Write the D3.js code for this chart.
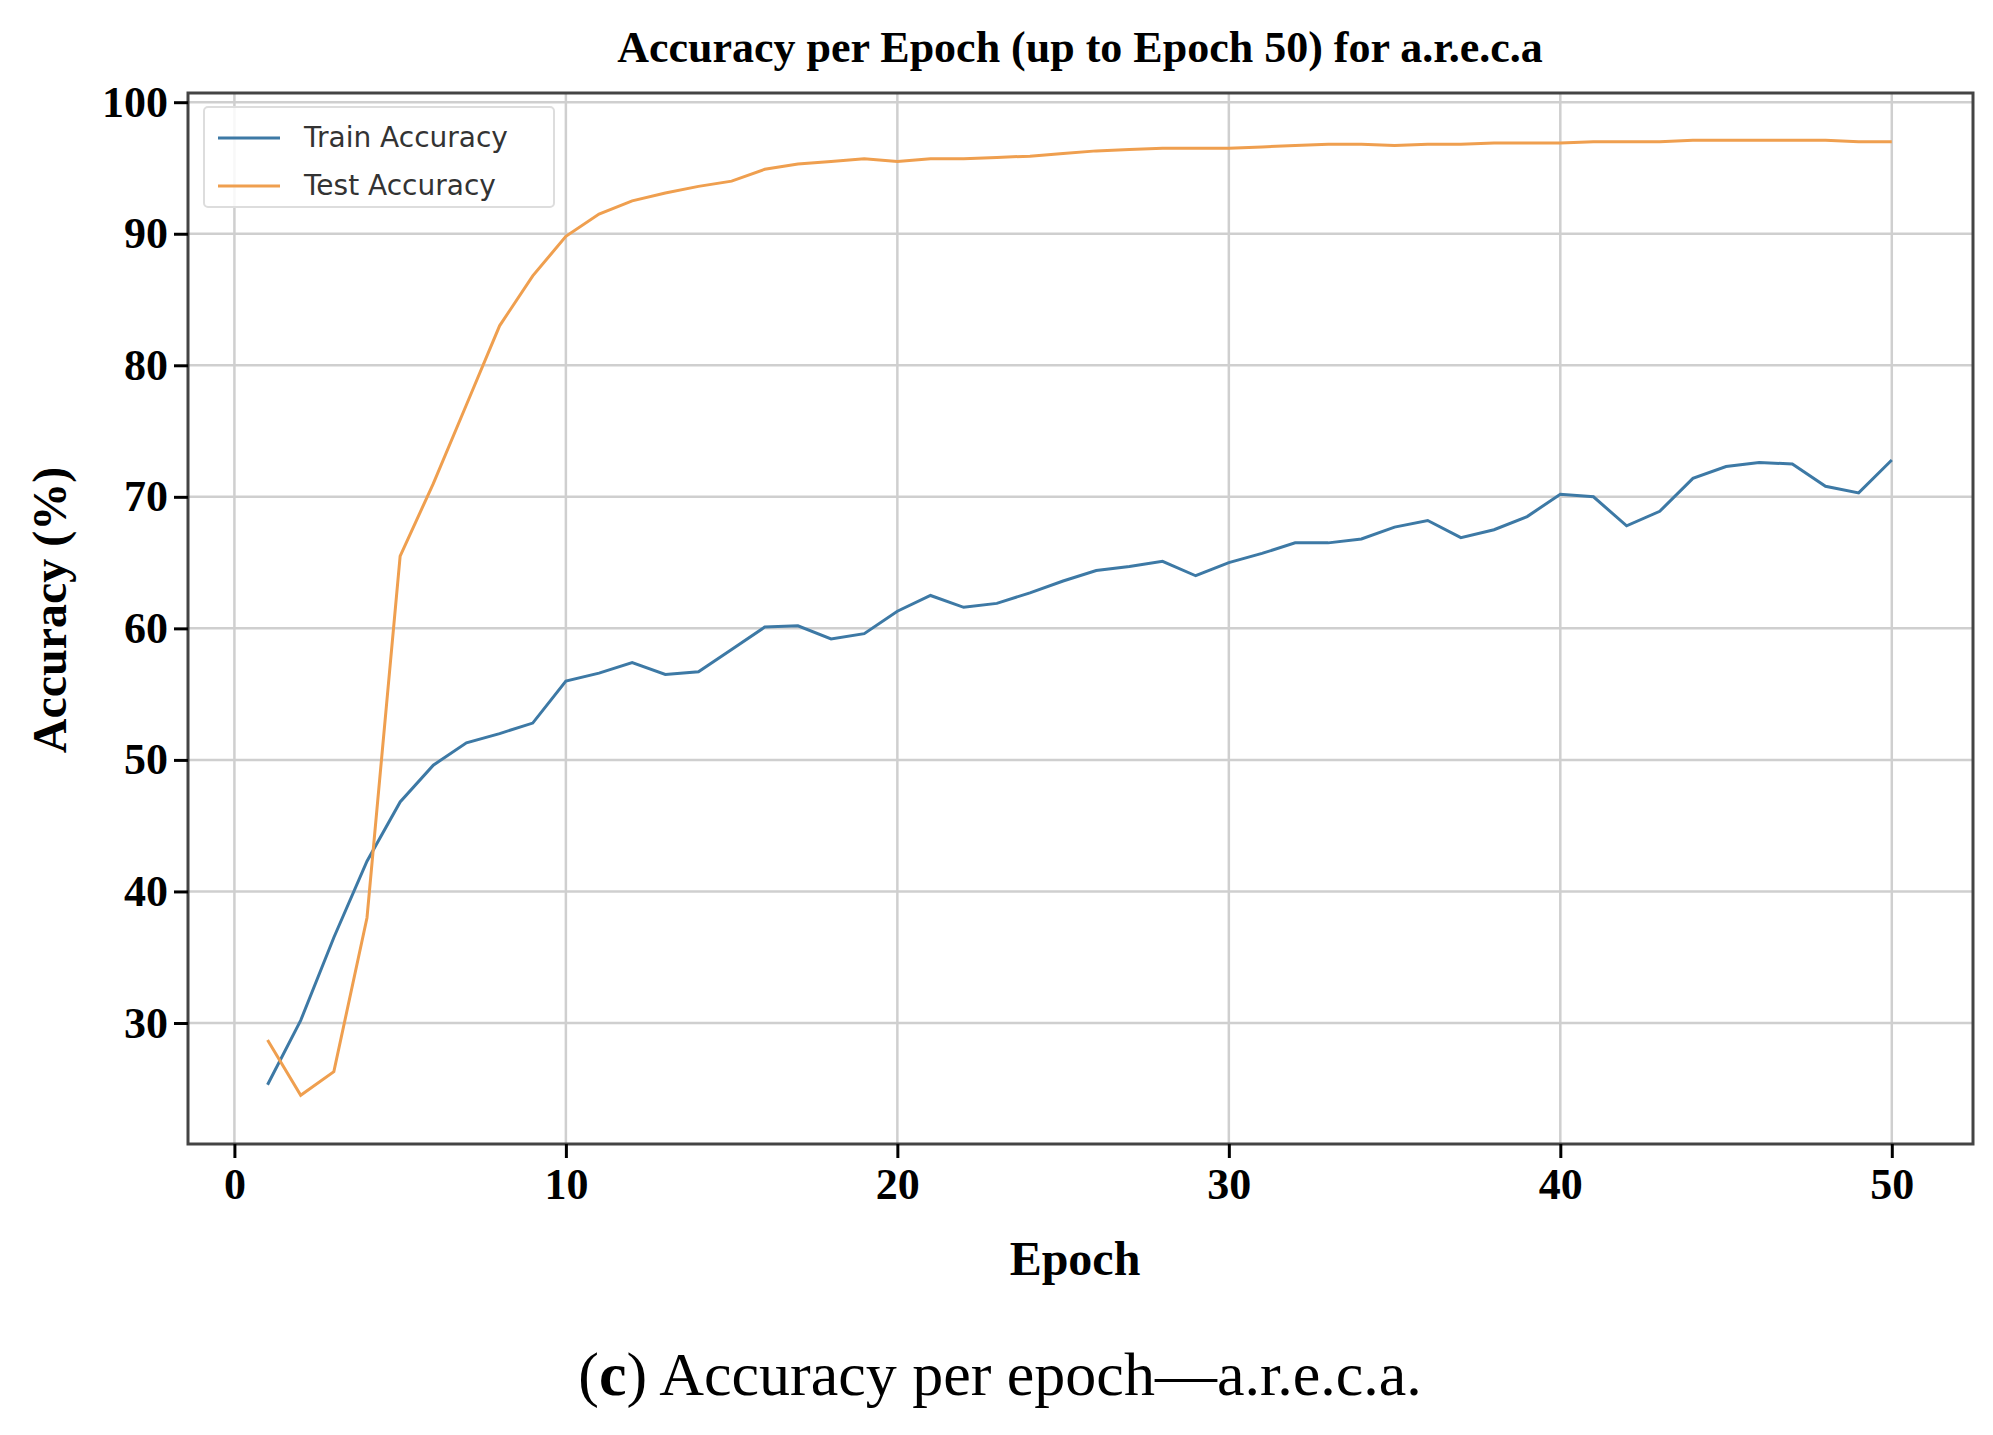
<!DOCTYPE html>
<html>
<head>
<meta charset="utf-8">
<script src="https://cdn.jsdelivr.net/npm/d3@7"></script>
<style>
  body { margin: 0; background: #fff; }
</style>
</head>
<body>
<svg id="chart" width="1993" height="1435"></svg>
<script>
// values
const epochs = d3.range(1, 51);
const trainAcc = [25.3, 30.2, 36.5, 42.3, 46.8, 49.6, 51.3, 52.0, 52.8, 56.0,
  56.6, 57.4, 56.5, 56.7, 58.4, 60.1, 60.2, 59.2, 59.6, 61.3,
  62.5, 61.6, 61.9, 62.7, 63.6, 64.4, 64.7, 65.1, 64.0, 65.0,
  65.7, 66.5, 66.5, 66.8, 67.7, 68.2, 66.9, 67.5, 68.5, 70.2,
  70.0, 67.8, 68.9, 71.4, 72.3, 72.6, 72.5, 70.8, 70.3, 72.8];
const testAcc = [28.7, 24.5, 26.3, 38.0, 65.5, 71.0, 77.0, 83.0, 86.8, 89.8,
  91.5, 92.5, 93.1, 93.6, 94.0, 94.9, 95.3, 95.5, 95.7, 95.5,
  95.7, 95.7, 95.8, 95.9, 96.1, 96.3, 96.4, 96.5, 96.5, 96.5,
  96.6, 96.7, 96.8, 96.8, 96.7, 96.8, 96.8, 96.9, 96.9, 96.9,
  97.0, 97.0, 97.0, 97.1, 97.1, 97.1, 97.1, 97.1, 97.0, 97.0];
const xTicks = [0, 10, 20, 30, 40, 50];
const yTicks = [30, 40, 50, 60, 70, 80, 90, 100];

const svg = d3.select("#chart");
const pL = 188, pR = 1973, pT = 93, pB = 1144;

const x = d3.scaleLinear().domain([-1.4, 52.45]).range([pL, pR]);
const y = d3.scaleLinear().domain([20.8, 100.7]).range([pB, pT]);

// grid
svg.append("g").selectAll("line").data(xTicks).join("line")
  .attr("x1", d => x(d)).attr("x2", d => x(d)).attr("y1", pT).attr("y2", pB)
  .attr("stroke", "#cfcfcf").attr("stroke-width", 2.5);
svg.append("g").selectAll("line").data(yTicks).join("line")
  .attr("x1", pL).attr("x2", pR).attr("y1", d => y(d)).attr("y2", d => y(d))
  .attr("stroke", "#cfcfcf").attr("stroke-width", 2.5);

// lines
const line = d3.line().x((d, i) => x(epochs[i])).y(d => y(d));
svg.append("path").datum(trainAcc).attr("d", line)
  .attr("fill", "none").attr("stroke", "#3d79a5").attr("stroke-width", 3);
svg.append("path").datum(testAcc).attr("d", line)
  .attr("fill", "none").attr("stroke", "#ef9f4f").attr("stroke-width", 3);

// frame
svg.append("rect").attr("x", pL).attr("y", pT)
  .attr("width", pR - pL).attr("height", pB - pT)
  .attr("fill", "none").attr("stroke", "#444").attr("stroke-width", 3);

// axes
const xAxis = svg.append("g").attr("transform", `translate(0,${pB})`)
  .call(d3.axisBottom(x).tickValues(xTicks).tickSize(14).tickPadding(10));
const yAxis = svg.append("g").attr("transform", `translate(${pL},0)`)
  .call(d3.axisLeft(y).tickValues(yTicks).tickSize(14).tickPadding(6));
[xAxis, yAxis].forEach(a => {
  a.select(".domain").remove();
  a.selectAll("line").attr("stroke", "#000").attr("stroke-width", 3);
  a.selectAll("text").attr("font-family", "Liberation Serif")
    .attr("font-weight", "bold").attr("font-size", 44).attr("fill", "#000");
});

// titles
svg.append("text").attr("x", 1080).attr("y", 62).attr("text-anchor", "middle")
  .attr("font-family", "Liberation Serif").attr("font-weight", "bold")
  .attr("font-size", 44).text("Accuracy per Epoch (up to Epoch 50) for a.r.e.c.a");
svg.append("text").attr("x", 1075).attr("y", 1275).attr("text-anchor", "middle")
  .attr("font-family", "Liberation Serif").attr("font-weight", "bold")
  .attr("font-size", 48).text("Epoch");
svg.append("text").attr("transform", "translate(66,610) rotate(-90)")
  .attr("text-anchor", "middle")
  .attr("font-family", "Liberation Serif").attr("font-weight", "bold")
  .attr("font-size", 48).text("Accuracy (%)");

// caption
const cap = svg.append("text").attr("x", 1000).attr("y", 1395).attr("text-anchor", "middle")
  .attr("font-family", "Liberation Serif").attr("font-size", 62);
cap.append("tspan").text("(");
cap.append("tspan").attr("font-weight", "bold").text("c");
cap.append("tspan").text(") Accuracy per epoch\u2014a.r.e.c.a.");

// legend
const lg = svg.append("g").attr("transform", `translate(${pL + 16},${pT + 14})`);
lg.append("rect").attr("width", 350).attr("height", 100).attr("rx", 4)
  .attr("fill", "#fff").attr("fill-opacity", 0.85).attr("stroke", "#ddd").attr("stroke-width", 2);
const items = [["Train Accuracy", "#3d79a5"], ["Test Accuracy", "#ef9f4f"]];
items.forEach((it, i) => {
  const yy = 31 + i * 48;
  lg.append("line").attr("x1", 14).attr("x2", 76).attr("y1", yy).attr("y2", yy)
    .attr("stroke", it[1]).attr("stroke-width", 3);
  lg.append("text").attr("x", 100).attr("y", yy + 9)
    .attr("font-family", "DejaVu Sans").attr("font-size", 28).attr("fill", "#333")
    .text(it[0]);
});
</script>
</body>
</html>
